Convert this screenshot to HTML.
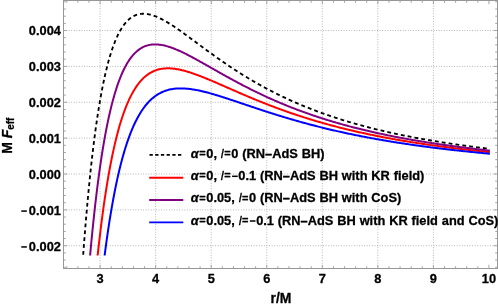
<!DOCTYPE html>
<html><head><meta charset="utf-8"><style>
html,body{margin:0;padding:0;background:#fff;}
body{width:498px;height:307px;overflow:hidden;position:relative;font-family:"Liberation Sans",sans-serif;}
svg{position:absolute;left:0;top:0;will-change:transform;}
text{font-family:"Liberation Sans",sans-serif;font-weight:bold;font-size:13px;fill:#000;stroke:#000;stroke-width:0.3px;stroke-linejoin:round;}
.i{font-style:italic;}
.d{fill:none;stroke:none;}
.l{font-style:italic;font-weight:normal;}
</style></head><body>
<svg width="498" height="307" viewBox="0 0 498 307">
<rect width="498" height="307" fill="#fff"/>
<defs><clipPath id="c"><rect x="63.50" y="0.50" width="434.00" height="255.00"/></clipPath></defs>
<g stroke="#b0b0b0" stroke-width="1" stroke-dasharray="0.9 1.67" fill="none"><line x1="100.10" y1="0.5" x2="100.10" y2="268.5"/><line x1="155.65" y1="0.5" x2="155.65" y2="268.5"/><line x1="211.20" y1="0.5" x2="211.20" y2="268.5"/><line x1="266.75" y1="0.5" x2="266.75" y2="268.5"/><line x1="322.30" y1="0.5" x2="322.30" y2="268.5"/><line x1="377.85" y1="0.5" x2="377.85" y2="268.5"/><line x1="433.40" y1="0.5" x2="433.40" y2="268.5"/><line x1="63.5" y1="245.73" x2="497.5" y2="245.73"/><line x1="63.5" y1="209.87" x2="497.5" y2="209.87"/><line x1="63.5" y1="174.00" x2="497.5" y2="174.00"/><line x1="63.5" y1="138.13" x2="497.5" y2="138.13"/><line x1="63.5" y1="102.27" x2="497.5" y2="102.27"/><line x1="63.5" y1="66.40" x2="497.5" y2="66.40"/><line x1="63.5" y1="30.53" x2="497.5" y2="30.53"/></g>
<g clip-path="url(#c)" fill="none" stroke-linejoin="round"><path d="M141.95,13.78 L143.11,13.73 L144.27,13.75 L145.43,13.81 L146.59,13.94 L147.75,14.11 L148.91,14.32 L150.07,14.58 L151.23,14.89 L152.39,15.23 L153.56,15.61 L154.72,16.02 L155.88,16.47 L157.04,16.95 L158.20,17.46 L159.36,17.99 L160.52,18.56 L161.68,19.14 L162.84,19.75 L164.00,20.38 L165.16,21.03 L166.32,21.70 L167.48,22.39 L168.64,23.09 L169.80,23.81 L170.96,24.55 L172.12,25.29 L173.28,26.05 L174.44,26.82 L175.61,27.60 L176.77,28.39 L177.93,29.19 L179.09,30.00 L180.25,30.82 L181.41,31.64 L182.57,32.47 L183.73,33.30 L184.89,34.14 L186.05,34.98 L187.21,35.83 L188.37,36.68 L189.53,37.53 L190.69,38.38 L191.85,39.24 L193.01,40.10 L194.17,40.96 L195.33,41.82 L196.50,42.68 L197.66,43.54 L198.82,44.40 L199.98,45.26 L201.14,46.12 L202.30,46.97 L203.46,47.83 L204.62,48.68 L205.78,49.54 L206.94,50.39 L208.10,51.24 L209.26,52.08 L210.42,52.92 L211.58,53.76 L212.74,54.60 L213.90,55.43 L215.06,56.26 L216.22,57.09 L217.38,57.91 L218.55,58.73 L219.71,59.55 L220.87,60.36 L222.03,61.17 L223.19,61.97 L224.35,62.77 L225.51,63.56 L226.67,64.35 L227.83,65.14 L228.99,65.92 L230.15,66.70 L231.31,67.47 L232.47,68.24 L233.63,69.00 L234.79,69.76 L235.95,70.51 L237.11,71.26 L238.27,72.00 L239.43,72.74 L240.60,73.47 L241.76,74.20 L242.92,74.92 L244.08,75.64 L245.24,76.35 L246.40,77.06 L247.56,77.77 L248.72,78.46 L249.88,79.16 L251.04,79.85 L252.20,80.53 L253.36,81.21 L254.52,81.88 L255.68,82.55 L256.84,83.21 L258.00,83.87 L259.16,84.52 L260.32,85.17 L261.49,85.81 L262.65,86.45 L263.81,87.08 L264.97,87.71 L266.13,88.34 L267.29,88.95 L268.45,89.57 L269.61,90.18 L270.77,90.78 L271.93,91.38 L273.09,91.97 L274.25,92.56 L275.41,93.15 L276.57,93.73 L277.73,94.31 L278.89,94.88 L280.05,95.44 L281.21,96.00 L282.37,96.56 L283.54,97.11 L284.70,97.66 L285.86,98.21 L287.02,98.75 L288.18,99.28 L289.34,99.81 L290.50,100.34 L291.66,100.86 L292.82,101.38 L293.98,101.89 L295.14,102.40 L296.30,102.90 L297.46,103.40 L298.62,103.90 L299.78,104.39 L300.94,104.88 L302.10,105.37 L303.26,105.85 L304.42,106.32 L305.59,106.80 L306.75,107.26 L307.91,107.73 L309.07,108.19 L310.23,108.65 L311.39,109.10 L312.55,109.55 L313.71,109.99 L314.87,110.44 L316.03,110.87 L317.19,111.31 L318.35,111.74 L319.51,112.17 L320.67,112.59 L321.83,113.01 L322.99,113.43 L324.15,113.84 L325.31,114.25 L326.48,114.66 L327.64,115.06 L328.80,115.46 L329.96,115.86 L331.12,116.25 L332.28,116.64 L333.44,117.03 L334.60,117.41 L335.76,117.79 L336.92,118.17 L338.08,118.54 L339.24,118.91 L340.40,119.28 L341.56,119.65 L342.72,120.01 L343.88,120.37 L345.04,120.72 L346.20,121.08 L347.36,121.43 L348.53,121.77 L349.69,122.12 L350.85,122.46 L352.01,122.80 L353.17,123.14 L354.33,123.47 L355.49,123.80 L356.65,124.13 L357.81,124.45 L358.97,124.77 L360.13,125.09 L361.29,125.41 L362.45,125.73 L363.61,126.04 L364.77,126.35 L365.93,126.66 L367.09,126.96 L368.25,127.26 L369.41,127.56 L370.58,127.86 L371.74,128.15 L372.90,128.45 L374.06,128.74 L375.22,129.03 L376.38,129.31 L377.54,129.59 L378.70,129.88 L379.86,130.15 L381.02,130.43 L382.18,130.70 L383.34,130.98 L384.50,131.25 L385.66,131.51 L386.82,131.78 L387.98,132.04 L389.14,132.31 L390.30,132.57 L391.47,132.82 L392.63,133.08 L393.79,133.33 L394.95,133.58 L396.11,133.83 L397.27,134.08 L398.43,134.33 L399.59,134.57 L400.75,134.81 L401.91,135.05 L403.07,135.29 L404.23,135.52 L405.39,135.76 L406.55,135.99 L407.71,136.22 L408.87,136.45 L410.03,136.68 L411.19,136.90 L412.35,137.13 L413.52,137.35 L414.68,137.57 L415.84,137.79 L417.00,138.00 L418.16,138.22 L419.32,138.43 L420.48,138.64 L421.64,138.85 L422.80,139.06 L423.96,139.27 L425.12,139.47 L426.28,139.68 L427.44,139.88 L428.60,140.08 L429.76,140.28 L430.92,140.48 L432.08,140.68 L433.24,140.87 L434.40,141.06 L435.57,141.26 L436.73,141.45 L437.89,141.63 L439.05,141.82 L440.21,142.01 L441.37,142.19 L442.53,142.38 L443.69,142.56 L444.85,142.74 L446.01,142.92 L447.17,143.10 L448.33,143.27 L449.49,143.45 L450.65,143.62 L451.81,143.80 L452.97,143.97 L454.13,144.14 L455.29,144.31 L456.46,144.48 L457.62,144.64 L458.78,144.81 L459.94,144.97 L461.10,145.13 L462.26,145.30 L463.42,145.46 L464.58,145.62 L465.74,145.77 L466.90,145.93 L468.06,146.09 L469.22,146.24 L470.38,146.40 L471.54,146.55 L472.70,146.70 L473.86,146.85 L475.02,147.00 L476.18,147.15 L477.34,147.30 L478.51,147.44 L479.67,147.59 L480.83,147.73 L481.99,147.88 L483.15,148.02 L484.31,148.16 L485.47,148.30 L486.63,148.44 L487.79,148.58 L488.95,148.71" stroke="#000" stroke-width="1.85" stroke-dasharray="3.86 3.07" stroke-dashoffset="1.93"/><path d="M141.95,13.78 L141.63,13.80 L141.32,13.83 L141.00,13.86 L140.68,13.89 L140.37,13.94 L140.05,13.98 L139.74,14.03 L139.42,14.09 L139.10,14.15 L138.79,14.22 L138.47,14.29 L138.15,14.37 L137.84,14.45 L137.52,14.54 L137.20,14.63 L136.89,14.73 L136.57,14.84 L136.26,14.95 L135.94,15.07 L135.62,15.19 L135.31,15.32 L134.99,15.45 L134.67,15.60 L134.36,15.74 L134.04,15.90 L133.72,16.06 L133.41,16.23 L133.09,16.40 L132.78,16.58 L132.46,16.77 L132.14,16.97 L131.83,17.17 L131.51,17.38 L131.19,17.60 L130.88,17.82 L130.56,18.05 L130.24,18.29 L129.93,18.54 L129.61,18.80 L129.29,19.06 L128.98,19.33 L128.66,19.61 L128.35,19.90 L128.03,20.20 L127.71,20.51 L127.40,20.82 L127.08,21.14 L126.76,21.48 L126.45,21.82 L126.13,22.17 L125.81,22.53 L125.50,22.90 L125.18,23.28 L124.87,23.67 L124.55,24.07 L124.23,24.47 L123.92,24.89 L123.60,25.32 L123.28,25.76 L122.97,26.21 L122.65,26.68 L122.33,27.15 L122.02,27.63 L121.70,28.13 L121.39,28.63 L121.07,29.15 L120.75,29.68 L120.44,30.22 L120.12,30.78 L119.80,31.34 L119.49,31.92 L119.17,32.51 L118.85,33.12 L118.54,33.74 L118.22,34.37 L117.91,35.01 L117.59,35.67 L117.27,36.34 L116.96,37.02 L116.64,37.72 L116.32,38.44 L116.01,39.16 L115.69,39.91 L115.37,40.66 L115.06,41.44 L114.74,42.23 L114.43,43.03 L114.11,43.85 L113.79,44.69 L113.48,45.54 L113.16,46.41 L112.84,47.29 L112.53,48.20 L112.21,49.12 L111.89,50.05 L111.58,51.01 L111.26,51.98 L110.95,52.97 L110.63,53.99 L110.31,55.01 L110.00,56.06 L109.68,57.13 L109.36,58.22 L109.05,59.32 L108.73,60.45 L108.41,61.60 L108.10,62.77 L107.78,63.96 L107.46,65.17 L107.15,66.40 L106.83,67.66 L106.52,68.93 L106.20,70.23 L105.88,71.55 L105.57,72.90 L105.25,74.27 L104.93,75.66 L104.62,77.08 L104.30,78.52 L103.98,79.99 L103.67,81.48 L103.35,83.00 L103.04,84.55 L102.72,86.12 L102.40,87.72 L102.09,89.34 L101.77,91.00 L101.45,92.68 L101.14,94.39 L100.82,96.13 L100.50,97.89 L100.19,99.69 L99.87,101.52 L99.56,103.38 L99.24,105.27 L98.92,107.19 L98.61,109.14 L98.29,111.13 L97.97,113.15 L97.66,115.20 L97.34,117.29 L97.02,119.41 L96.71,121.56 L96.39,123.75 L96.08,125.98 L95.76,128.24 L95.44,130.55 L95.13,132.88 L94.81,135.26 L94.49,137.67 L94.18,140.13 L93.86,142.62 L93.54,145.16 L93.23,147.73 L92.91,150.35 L92.60,153.01 L92.28,155.71 L91.96,158.46 L91.65,161.25 L91.33,164.08 L91.01,166.96 L90.70,169.89 L90.38,172.86 L90.06,175.88 L89.75,178.95 L89.43,182.07 L89.12,185.24 L88.80,188.46 L88.48,191.73 L88.17,195.05 L87.85,198.42 L87.53,201.85 L87.22,205.33 L86.90,208.87 L86.58,212.47 L86.27,216.12 L85.95,219.83 L85.63,223.59 L85.32,227.42 L85.00,231.31 L84.69,235.26 L84.37,239.27 L84.05,243.34 L83.74,247.48 L83.42,251.69 L83.10,255.96 L82.79,260.29 L82.47,264.70 L82.15,269.17 L81.84,273.72 L81.52,278.34 L81.21,283.03 L80.89,287.79 L80.57,292.63 L80.26,297.54 L79.94,302.54 L79.62,307.61 L79.31,312.76 L78.99,317.99" stroke="#000" stroke-width="1.85" stroke-dasharray="3.84 3.055" stroke-dashoffset="1.92"/><path d="M94.30,288.74 L95.35,277.75 L96.40,267.25 L97.44,257.23 L98.49,247.66 L99.54,238.53 L100.58,229.81 L101.63,221.49 L102.67,213.54 L103.72,205.96 L104.77,198.72 L105.81,191.81 L106.86,185.22 L107.91,178.93 L108.95,172.93 L110.00,167.21 L111.05,161.75 L112.09,156.55 L113.14,151.59 L114.19,146.86 L115.23,142.35 L116.28,138.05 L117.33,133.96 L118.37,130.06 L119.42,126.35 L120.47,122.82 L121.51,119.46 L122.56,116.26 L123.61,113.23 L124.65,110.34 L125.70,107.59 L126.75,104.99 L127.79,102.52 L128.84,100.17 L129.88,97.95 L130.93,95.84 L131.98,93.84 L133.02,91.95 L134.07,90.17 L135.12,88.48 L136.16,86.89 L137.21,85.39 L138.26,83.97 L139.30,82.64 L140.35,81.39 L141.40,80.21 L142.44,79.11 L143.49,78.08 L144.54,77.11 L145.58,76.21 L146.63,75.37 L147.68,74.59 L148.72,73.87 L149.77,73.20 L150.82,72.59 L151.86,72.02 L152.91,71.51 L153.96,71.04 L155.00,70.61 L156.05,70.23 L157.09,69.88 L158.14,69.58 L159.19,69.31 L160.23,69.08 L161.28,68.88 L162.33,68.72 L163.37,68.58 L164.42,68.48 L165.47,68.41 L166.51,68.36 L167.56,68.34 L168.61,68.34 L169.65,68.37 L170.70,68.42 L171.75,68.50 L172.79,68.59 L173.84,68.70 L174.89,68.84 L175.93,68.99 L176.98,69.16 L178.03,69.35 L179.07,69.55 L180.12,69.77 L181.17,70.00 L182.21,70.25 L183.26,70.51 L184.30,70.78 L185.35,71.06 L186.40,71.36 L187.44,71.67 L188.49,71.98 L189.54,72.31 L190.58,72.64 L191.63,72.99 L192.68,73.34 L193.72,73.70 L194.77,74.07 L195.82,74.45 L196.86,74.83 L197.91,75.22 L198.96,75.61 L200.00,76.01 L201.05,76.42 L202.10,76.83 L203.14,77.25 L204.19,77.66 L205.24,78.09 L206.28,78.52 L207.33,78.95 L208.38,79.38 L209.42,79.82 L210.47,80.26 L211.51,80.70 L212.56,81.15 L213.61,81.59 L214.65,82.04 L215.70,82.49 L216.75,82.95 L217.79,83.40 L218.84,83.86 L219.89,84.31 L220.93,84.77 L221.98,85.23 L223.03,85.68 L224.07,86.14 L225.12,86.60 L226.17,87.06 L227.21,87.52 L228.26,87.98 L229.31,88.44 L230.35,88.90 L231.40,89.36 L232.45,89.82 L233.49,90.28 L234.54,90.73 L235.59,91.19 L236.63,91.65 L237.68,92.10 L238.72,92.55 L239.77,93.01 L240.82,93.46 L241.86,93.91 L242.91,94.36 L243.96,94.81 L245.00,95.25 L246.05,95.70 L247.10,96.14 L248.14,96.59 L249.19,97.03 L250.24,97.47 L251.28,97.90 L252.33,98.34 L253.38,98.78 L254.42,99.21 L255.47,99.64 L256.52,100.07 L257.56,100.50 L258.61,100.92 L259.66,101.34 L260.70,101.77 L261.75,102.19 L262.80,102.60 L263.84,103.02 L264.89,103.43 L265.93,103.84 L266.98,104.25 L268.03,104.66 L269.07,105.07 L270.12,105.47 L271.17,105.87 L272.21,106.27 L273.26,106.67 L274.31,107.06 L275.35,107.46 L276.40,107.85 L277.45,108.24 L278.49,108.62 L279.54,109.01 L280.59,109.39 L281.63,109.77 L282.68,110.15 L283.73,110.52 L284.77,110.90 L285.82,111.27 L286.87,111.64 L287.91,112.00 L288.96,112.37 L290.01,112.73 L291.05,113.09 L292.10,113.45 L293.14,113.80 L294.19,114.16 L295.24,114.51 L296.28,114.86 L297.33,115.21 L298.38,115.55 L299.42,115.90 L300.47,116.24 L301.52,116.57 L302.56,116.91 L303.61,117.25 L304.66,117.58 L305.70,117.91 L306.75,118.24 L307.80,118.56 L308.84,118.89 L309.89,119.21 L310.94,119.53 L311.98,119.85 L313.03,120.16 L314.08,120.48 L315.12,120.79 L316.17,121.10 L317.22,121.40 L318.26,121.71 L319.31,122.01 L320.35,122.32 L321.40,122.62 L322.45,122.91 L323.49,123.21 L324.54,123.50 L325.59,123.79 L326.63,124.08 L327.68,124.37 L328.73,124.66 L329.77,124.94 L330.82,125.22 L331.87,125.50 L332.91,125.78 L333.96,126.06 L335.01,126.33 L336.05,126.61 L337.10,126.88 L338.15,127.15 L339.19,127.42 L340.24,127.68 L341.29,127.95 L342.33,128.21 L343.38,128.47 L344.43,128.73 L345.47,128.98 L346.52,129.24 L347.56,129.49 L348.61,129.74 L349.66,129.99 L350.70,130.24 L351.75,130.49 L352.80,130.73 L353.84,130.98 L354.89,131.22 L355.94,131.46 L356.98,131.70 L358.03,131.94 L359.08,132.17 L360.12,132.40 L361.17,132.64 L362.22,132.87 L363.26,133.10 L364.31,133.32 L365.36,133.55 L366.40,133.77 L367.45,134.00 L368.50,134.22 L369.54,134.44 L370.59,134.66 L371.64,134.87 L372.68,135.09 L373.73,135.30 L374.77,135.52 L375.82,135.73 L376.87,135.94 L377.91,136.15 L378.96,136.35 L380.01,136.56 L381.05,136.76 L382.10,136.97 L383.15,137.17 L384.19,137.37 L385.24,137.57 L386.29,137.76 L387.33,137.96 L388.38,138.15 L389.43,138.35 L390.47,138.54 L391.52,138.73 L392.57,138.92 L393.61,139.11 L394.66,139.30 L395.71,139.48 L396.75,139.67 L397.80,139.85 L398.85,140.03 L399.89,140.21 L400.94,140.39 L401.99,140.57 L403.03,140.75 L404.08,140.93 L405.12,141.10 L406.17,141.28 L407.22,141.45 L408.26,141.62 L409.31,141.79 L410.36,141.96 L411.40,142.13 L412.45,142.30 L413.50,142.46 L414.54,142.63 L415.59,142.79 L416.64,142.95 L417.68,143.12 L418.73,143.28 L419.78,143.44 L420.82,143.59 L421.87,143.75 L422.92,143.91 L423.96,144.06 L425.01,144.22 L426.06,144.37 L427.10,144.52 L428.15,144.68 L429.20,144.83 L430.24,144.98 L431.29,145.12 L432.33,145.27 L433.38,145.42 L434.43,145.56 L435.47,145.71 L436.52,145.85 L437.57,146.00 L438.61,146.14 L439.66,146.28 L440.71,146.42 L441.75,146.56 L442.80,146.70 L443.85,146.83 L444.89,146.97 L445.94,147.11 L446.99,147.24 L448.03,147.38 L449.08,147.51 L450.13,147.64 L451.17,147.77 L452.22,147.90 L453.27,148.03 L454.31,148.16 L455.36,148.29 L456.41,148.42 L457.45,148.54 L458.50,148.67 L459.54,148.80 L460.59,148.92 L461.64,149.04 L462.68,149.17 L463.73,149.29 L464.78,149.41 L465.82,149.53 L466.87,149.65 L467.92,149.77 L468.96,149.89 L470.01,150.00 L471.06,150.12 L472.10,150.24 L473.15,150.35 L474.20,150.47 L475.24,150.58 L476.29,150.69 L477.34,150.80 L478.38,150.92 L479.43,151.03 L480.48,151.14 L481.52,151.25 L482.57,151.36 L483.62,151.46 L484.66,151.57 L485.71,151.68 L486.75,151.78 L487.80,151.89 L488.85,152.00 L489.89,152.10" stroke="#ff0000" stroke-width="2"/><path d="M86.98,292.97 L88.02,279.80 L89.07,267.27 L90.12,255.33 L91.16,243.96 L92.21,233.14 L93.26,222.83 L94.30,213.02 L95.35,203.68 L96.40,194.78 L97.44,186.32 L98.49,178.27 L99.54,170.60 L100.58,163.31 L101.63,156.37 L102.67,149.78 L103.72,143.51 L104.77,137.54 L105.81,131.88 L106.86,126.49 L107.91,121.38 L108.95,116.52 L110.00,111.91 L111.05,107.53 L112.09,103.38 L113.14,99.45 L114.19,95.72 L115.23,92.18 L116.28,88.84 L117.33,85.67 L118.37,82.68 L119.42,79.84 L120.47,77.17 L121.51,74.65 L122.56,72.27 L123.61,70.02 L124.65,67.91 L125.70,65.93 L126.75,64.06 L127.79,62.31 L128.84,60.67 L129.88,59.13 L130.93,57.70 L131.98,56.36 L133.02,55.11 L134.07,53.95 L135.12,52.88 L136.16,51.89 L137.21,50.97 L138.26,50.12 L139.30,49.35 L140.35,48.65 L141.40,48.00 L142.44,47.43 L143.49,46.90 L144.54,46.44 L145.58,46.03 L146.63,45.67 L147.68,45.36 L148.72,45.10 L149.77,44.88 L150.82,44.71 L151.86,44.57 L152.91,44.48 L153.96,44.42 L155.00,44.40 L156.05,44.41 L157.09,44.46 L158.14,44.53 L159.19,44.64 L160.23,44.77 L161.28,44.93 L162.33,45.12 L163.37,45.33 L164.42,45.56 L165.47,45.82 L166.51,46.10 L167.56,46.39 L168.61,46.71 L169.65,47.05 L170.70,47.40 L171.75,47.77 L172.79,48.15 L173.84,48.55 L174.89,48.96 L175.93,49.39 L176.98,49.82 L178.03,50.27 L179.07,50.74 L180.12,51.21 L181.17,51.69 L182.21,52.18 L183.26,52.68 L184.30,53.19 L185.35,53.70 L186.40,54.23 L187.44,54.76 L188.49,55.30 L189.54,55.84 L190.58,56.39 L191.63,56.94 L192.68,57.50 L193.72,58.06 L194.77,58.63 L195.82,59.20 L196.86,59.77 L197.91,60.35 L198.96,60.93 L200.00,61.51 L201.05,62.09 L202.10,62.68 L203.14,63.27 L204.19,63.86 L205.24,64.45 L206.28,65.04 L207.33,65.64 L208.38,66.23 L209.42,66.82 L210.47,67.42 L211.51,68.01 L212.56,68.61 L213.61,69.20 L214.65,69.80 L215.70,70.39 L216.75,70.98 L217.79,71.57 L218.84,72.17 L219.89,72.76 L220.93,73.34 L221.98,73.93 L223.03,74.52 L224.07,75.10 L225.12,75.69 L226.17,76.27 L227.21,76.85 L228.26,77.43 L229.31,78.00 L230.35,78.58 L231.40,79.15 L232.45,79.72 L233.49,80.29 L234.54,80.85 L235.59,81.42 L236.63,81.98 L237.68,82.54 L238.72,83.09 L239.77,83.65 L240.82,84.20 L241.86,84.75 L242.91,85.29 L243.96,85.84 L245.00,86.38 L246.05,86.91 L247.10,87.45 L248.14,87.98 L249.19,88.51 L250.24,89.04 L251.28,89.56 L252.33,90.08 L253.38,90.60 L254.42,91.12 L255.47,91.63 L256.52,92.14 L257.56,92.65 L258.61,93.15 L259.66,93.65 L260.70,94.15 L261.75,94.65 L262.80,95.14 L263.84,95.63 L264.89,96.11 L265.93,96.60 L266.98,97.08 L268.03,97.55 L269.07,98.03 L270.12,98.50 L271.17,98.97 L272.21,99.43 L273.26,99.90 L274.31,100.36 L275.35,100.81 L276.40,101.27 L277.45,101.72 L278.49,102.16 L279.54,102.61 L280.59,103.05 L281.63,103.49 L282.68,103.92 L283.73,104.36 L284.77,104.79 L285.82,105.22 L286.87,105.64 L287.91,106.06 L288.96,106.48 L290.01,106.90 L291.05,107.31 L292.10,107.72 L293.14,108.13 L294.19,108.53 L295.24,108.93 L296.28,109.33 L297.33,109.73 L298.38,110.12 L299.42,110.51 L300.47,110.90 L301.52,111.29 L302.56,111.67 L303.61,112.05 L304.66,112.43 L305.70,112.80 L306.75,113.17 L307.80,113.54 L308.84,113.91 L309.89,114.28 L310.94,114.64 L311.98,115.00 L313.03,115.35 L314.08,115.71 L315.12,116.06 L316.17,116.41 L317.22,116.76 L318.26,117.10 L319.31,117.44 L320.35,117.78 L321.40,118.12 L322.45,118.46 L323.49,118.79 L324.54,119.12 L325.59,119.45 L326.63,119.77 L327.68,120.09 L328.73,120.41 L329.77,120.73 L330.82,121.05 L331.87,121.36 L332.91,121.68 L333.96,121.99 L335.01,122.29 L336.05,122.60 L337.10,122.90 L338.15,123.20 L339.19,123.50 L340.24,123.80 L341.29,124.09 L342.33,124.38 L343.38,124.67 L344.43,124.96 L345.47,125.25 L346.52,125.53 L347.56,125.82 L348.61,126.10 L349.66,126.37 L350.70,126.65 L351.75,126.92 L352.80,127.20 L353.84,127.47 L354.89,127.74 L355.94,128.00 L356.98,128.27 L358.03,128.53 L359.08,128.79 L360.12,129.05 L361.17,129.31 L362.22,129.56 L363.26,129.82 L364.31,130.07 L365.36,130.32 L366.40,130.57 L367.45,130.81 L368.50,131.06 L369.54,131.30 L370.59,131.54 L371.64,131.78 L372.68,132.02 L373.73,132.26 L374.77,132.49 L375.82,132.73 L376.87,132.96 L377.91,133.19 L378.96,133.41 L380.01,133.64 L381.05,133.87 L382.10,134.09 L383.15,134.31 L384.19,134.53 L385.24,134.75 L386.29,134.97 L387.33,135.18 L388.38,135.40 L389.43,135.61 L390.47,135.82 L391.52,136.03 L392.57,136.24 L393.61,136.45 L394.66,136.65 L395.71,136.86 L396.75,137.06 L397.80,137.26 L398.85,137.46 L399.89,137.66 L400.94,137.86 L401.99,138.05 L403.03,138.25 L404.08,138.44 L405.12,138.63 L406.17,138.82 L407.22,139.01 L408.26,139.20 L409.31,139.39 L410.36,139.57 L411.40,139.76 L412.45,139.94 L413.50,140.12 L414.54,140.30 L415.59,140.48 L416.64,140.66 L417.68,140.84 L418.73,141.01 L419.78,141.19 L420.82,141.36 L421.87,141.53 L422.92,141.70 L423.96,141.87 L425.01,142.04 L426.06,142.21 L427.10,142.38 L428.15,142.54 L429.20,142.71 L430.24,142.87 L431.29,143.03 L432.33,143.19 L433.38,143.35 L434.43,143.51 L435.47,143.67 L436.52,143.83 L437.57,143.98 L438.61,144.14 L439.66,144.29 L440.71,144.44 L441.75,144.60 L442.80,144.75 L443.85,144.90 L444.89,145.04 L445.94,145.19 L446.99,145.34 L448.03,145.48 L449.08,145.63 L450.13,145.77 L451.17,145.92 L452.22,146.06 L453.27,146.20 L454.31,146.34 L455.36,146.48 L456.41,146.62 L457.45,146.75 L458.50,146.89 L459.54,147.03 L460.59,147.16 L461.64,147.30 L462.68,147.43 L463.73,147.56 L464.78,147.69 L465.82,147.82 L466.87,147.95 L467.92,148.08 L468.96,148.21 L470.01,148.34 L471.06,148.46 L472.10,148.59 L473.15,148.71 L474.20,148.84 L475.24,148.96 L476.29,149.08 L477.34,149.21 L478.38,149.33 L479.43,149.45 L480.48,149.57 L481.52,149.69 L482.57,149.80 L483.62,149.92 L484.66,150.04 L485.71,150.15 L486.75,150.27 L487.80,150.38 L488.85,150.50 L489.89,150.61" stroke="#800080" stroke-width="2"/><path d="M99.54,299.53 L100.58,289.67 L101.63,280.24 L102.67,271.21 L103.72,262.57 L104.77,254.30 L105.81,246.39 L106.86,238.81 L107.91,231.57 L108.95,224.63 L110.00,217.99 L111.05,211.64 L112.09,205.57 L113.14,199.75 L114.19,194.19 L115.23,188.87 L116.28,183.78 L117.33,178.91 L118.37,174.26 L119.42,169.80 L120.47,165.55 L121.51,161.48 L122.56,157.59 L123.61,153.87 L124.65,150.32 L125.70,146.93 L126.75,143.68 L127.79,140.59 L128.84,137.64 L129.88,134.82 L130.93,132.12 L131.98,129.56 L133.02,127.11 L134.07,124.78 L135.12,122.55 L136.16,120.44 L137.21,118.42 L138.26,116.50 L139.30,114.68 L140.35,112.94 L141.40,111.29 L142.44,109.72 L143.49,108.23 L144.54,106.82 L145.58,105.49 L146.63,104.22 L147.68,103.02 L148.72,101.88 L149.77,100.81 L150.82,99.80 L151.86,98.85 L152.91,97.95 L153.96,97.10 L155.00,96.31 L156.05,95.56 L157.09,94.87 L158.14,94.21 L159.19,93.61 L160.23,93.04 L161.28,92.51 L162.33,92.03 L163.37,91.58 L164.42,91.16 L165.47,90.78 L166.51,90.43 L167.56,90.12 L168.61,89.83 L169.65,89.58 L170.70,89.35 L171.75,89.15 L172.79,88.97 L173.84,88.82 L174.89,88.70 L175.93,88.59 L176.98,88.51 L178.03,88.45 L179.07,88.41 L180.12,88.39 L181.17,88.39 L182.21,88.40 L183.26,88.43 L184.30,88.48 L185.35,88.55 L186.40,88.63 L187.44,88.72 L188.49,88.83 L189.54,88.95 L190.58,89.08 L191.63,89.23 L192.68,89.39 L193.72,89.55 L194.77,89.73 L195.82,89.92 L196.86,90.12 L197.91,90.33 L198.96,90.54 L200.00,90.77 L201.05,91.00 L202.10,91.24 L203.14,91.49 L204.19,91.75 L205.24,92.01 L206.28,92.28 L207.33,92.55 L208.38,92.83 L209.42,93.11 L210.47,93.40 L211.51,93.70 L212.56,94.00 L213.61,94.30 L214.65,94.61 L215.70,94.92 L216.75,95.24 L217.79,95.56 L218.84,95.88 L219.89,96.20 L220.93,96.53 L221.98,96.86 L223.03,97.19 L224.07,97.53 L225.12,97.87 L226.17,98.21 L227.21,98.55 L228.26,98.89 L229.31,99.23 L230.35,99.58 L231.40,99.93 L232.45,100.27 L233.49,100.62 L234.54,100.97 L235.59,101.32 L236.63,101.67 L237.68,102.03 L238.72,102.38 L239.77,102.73 L240.82,103.08 L241.86,103.44 L242.91,103.79 L243.96,104.14 L245.00,104.50 L246.05,104.85 L247.10,105.20 L248.14,105.55 L249.19,105.91 L250.24,106.26 L251.28,106.61 L252.33,106.96 L253.38,107.31 L254.42,107.66 L255.47,108.01 L256.52,108.36 L257.56,108.70 L258.61,109.05 L259.66,109.40 L260.70,109.74 L261.75,110.08 L262.80,110.43 L263.84,110.77 L264.89,111.11 L265.93,111.45 L266.98,111.79 L268.03,112.12 L269.07,112.46 L270.12,112.79 L271.17,113.13 L272.21,113.46 L273.26,113.79 L274.31,114.12 L275.35,114.45 L276.40,114.78 L277.45,115.10 L278.49,115.43 L279.54,115.75 L280.59,116.07 L281.63,116.39 L282.68,116.71 L283.73,117.03 L284.77,117.34 L285.82,117.65 L286.87,117.97 L287.91,118.28 L288.96,118.59 L290.01,118.90 L291.05,119.20 L292.10,119.51 L293.14,119.81 L294.19,120.11 L295.24,120.41 L296.28,120.71 L297.33,121.01 L298.38,121.30 L299.42,121.60 L300.47,121.89 L301.52,122.18 L302.56,122.47 L303.61,122.76 L304.66,123.04 L305.70,123.33 L306.75,123.61 L307.80,123.89 L308.84,124.17 L309.89,124.45 L310.94,124.72 L311.98,125.00 L313.03,125.27 L314.08,125.54 L315.12,125.81 L316.17,126.08 L317.22,126.35 L318.26,126.61 L319.31,126.88 L320.35,127.14 L321.40,127.40 L322.45,127.66 L323.49,127.92 L324.54,128.17 L325.59,128.43 L326.63,128.68 L327.68,128.93 L328.73,129.18 L329.77,129.43 L330.82,129.68 L331.87,129.92 L332.91,130.17 L333.96,130.41 L335.01,130.65 L336.05,130.89 L337.10,131.13 L338.15,131.36 L339.19,131.60 L340.24,131.83 L341.29,132.07 L342.33,132.30 L343.38,132.53 L344.43,132.75 L345.47,132.98 L346.52,133.20 L347.56,133.43 L348.61,133.65 L349.66,133.87 L350.70,134.09 L351.75,134.31 L352.80,134.52 L353.84,134.74 L354.89,134.95 L355.94,135.17 L356.98,135.38 L358.03,135.59 L359.08,135.80 L360.12,136.00 L361.17,136.21 L362.22,136.41 L363.26,136.62 L364.31,136.82 L365.36,137.02 L366.40,137.22 L367.45,137.42 L368.50,137.61 L369.54,137.81 L370.59,138.00 L371.64,138.20 L372.68,138.39 L373.73,138.58 L374.77,138.77 L375.82,138.96 L376.87,139.14 L377.91,139.33 L378.96,139.51 L380.01,139.70 L381.05,139.88 L382.10,140.06 L383.15,140.24 L384.19,140.42 L385.24,140.60 L386.29,140.77 L387.33,140.95 L388.38,141.12 L389.43,141.30 L390.47,141.47 L391.52,141.64 L392.57,141.81 L393.61,141.98 L394.66,142.15 L395.71,142.31 L396.75,142.48 L397.80,142.64 L398.85,142.81 L399.89,142.97 L400.94,143.13 L401.99,143.29 L403.03,143.45 L404.08,143.61 L405.12,143.76 L406.17,143.92 L407.22,144.08 L408.26,144.23 L409.31,144.38 L410.36,144.54 L411.40,144.69 L412.45,144.84 L413.50,144.99 L414.54,145.14 L415.59,145.28 L416.64,145.43 L417.68,145.58 L418.73,145.72 L419.78,145.87 L420.82,146.01 L421.87,146.15 L422.92,146.29 L423.96,146.43 L425.01,146.57 L426.06,146.71 L427.10,146.85 L428.15,146.98 L429.20,147.12 L430.24,147.26 L431.29,147.39 L432.33,147.52 L433.38,147.66 L434.43,147.79 L435.47,147.92 L436.52,148.05 L437.57,148.18 L438.61,148.31 L439.66,148.43 L440.71,148.56 L441.75,148.69 L442.80,148.81 L443.85,148.94 L444.89,149.06 L445.94,149.18 L446.99,149.31 L448.03,149.43 L449.08,149.55 L450.13,149.67 L451.17,149.79 L452.22,149.91 L453.27,150.02 L454.31,150.14 L455.36,150.26 L456.41,150.37 L457.45,150.49 L458.50,150.60 L459.54,150.71 L460.59,150.83 L461.64,150.94 L462.68,151.05 L463.73,151.16 L464.78,151.27 L465.82,151.38 L466.87,151.49 L467.92,151.60 L468.96,151.71 L470.01,151.81 L471.06,151.92 L472.10,152.02 L473.15,152.13 L474.20,152.23 L475.24,152.34 L476.29,152.44 L477.34,152.54 L478.38,152.64 L479.43,152.74 L480.48,152.84 L481.52,152.94 L482.57,153.04 L483.62,153.14 L484.66,153.24 L485.71,153.34 L486.75,153.43 L487.80,153.53 L488.85,153.63 L489.89,153.72" stroke="#0000ff" stroke-width="2"/></g>
<g stroke="#a4a4a4" stroke-width="1" fill="none"><line x1="66.77" y1="268.5" x2="66.77" y2="266.2"/><line x1="66.77" y1="0.5" x2="66.77" y2="2.8"/><line x1="77.88" y1="268.5" x2="77.88" y2="266.2"/><line x1="77.88" y1="0.5" x2="77.88" y2="2.8"/><line x1="88.99" y1="268.5" x2="88.99" y2="266.2"/><line x1="88.99" y1="0.5" x2="88.99" y2="2.8"/><line x1="100.10" y1="268.5" x2="100.10" y2="264.8"/><line x1="100.10" y1="0.5" x2="100.10" y2="4.2"/><line x1="111.21" y1="268.5" x2="111.21" y2="266.2"/><line x1="111.21" y1="0.5" x2="111.21" y2="2.8"/><line x1="122.32" y1="268.5" x2="122.32" y2="266.2"/><line x1="122.32" y1="0.5" x2="122.32" y2="2.8"/><line x1="133.43" y1="268.5" x2="133.43" y2="266.2"/><line x1="133.43" y1="0.5" x2="133.43" y2="2.8"/><line x1="144.54" y1="268.5" x2="144.54" y2="266.2"/><line x1="144.54" y1="0.5" x2="144.54" y2="2.8"/><line x1="155.65" y1="268.5" x2="155.65" y2="264.8"/><line x1="155.65" y1="0.5" x2="155.65" y2="4.2"/><line x1="166.76" y1="268.5" x2="166.76" y2="266.2"/><line x1="166.76" y1="0.5" x2="166.76" y2="2.8"/><line x1="177.87" y1="268.5" x2="177.87" y2="266.2"/><line x1="177.87" y1="0.5" x2="177.87" y2="2.8"/><line x1="188.98" y1="268.5" x2="188.98" y2="266.2"/><line x1="188.98" y1="0.5" x2="188.98" y2="2.8"/><line x1="200.09" y1="268.5" x2="200.09" y2="266.2"/><line x1="200.09" y1="0.5" x2="200.09" y2="2.8"/><line x1="211.20" y1="268.5" x2="211.20" y2="264.8"/><line x1="211.20" y1="0.5" x2="211.20" y2="4.2"/><line x1="222.31" y1="268.5" x2="222.31" y2="266.2"/><line x1="222.31" y1="0.5" x2="222.31" y2="2.8"/><line x1="233.42" y1="268.5" x2="233.42" y2="266.2"/><line x1="233.42" y1="0.5" x2="233.42" y2="2.8"/><line x1="244.53" y1="268.5" x2="244.53" y2="266.2"/><line x1="244.53" y1="0.5" x2="244.53" y2="2.8"/><line x1="255.64" y1="268.5" x2="255.64" y2="266.2"/><line x1="255.64" y1="0.5" x2="255.64" y2="2.8"/><line x1="266.75" y1="268.5" x2="266.75" y2="264.8"/><line x1="266.75" y1="0.5" x2="266.75" y2="4.2"/><line x1="277.86" y1="268.5" x2="277.86" y2="266.2"/><line x1="277.86" y1="0.5" x2="277.86" y2="2.8"/><line x1="288.97" y1="268.5" x2="288.97" y2="266.2"/><line x1="288.97" y1="0.5" x2="288.97" y2="2.8"/><line x1="300.08" y1="268.5" x2="300.08" y2="266.2"/><line x1="300.08" y1="0.5" x2="300.08" y2="2.8"/><line x1="311.19" y1="268.5" x2="311.19" y2="266.2"/><line x1="311.19" y1="0.5" x2="311.19" y2="2.8"/><line x1="322.30" y1="268.5" x2="322.30" y2="264.8"/><line x1="322.30" y1="0.5" x2="322.30" y2="4.2"/><line x1="333.41" y1="268.5" x2="333.41" y2="266.2"/><line x1="333.41" y1="0.5" x2="333.41" y2="2.8"/><line x1="344.52" y1="268.5" x2="344.52" y2="266.2"/><line x1="344.52" y1="0.5" x2="344.52" y2="2.8"/><line x1="355.63" y1="268.5" x2="355.63" y2="266.2"/><line x1="355.63" y1="0.5" x2="355.63" y2="2.8"/><line x1="366.74" y1="268.5" x2="366.74" y2="266.2"/><line x1="366.74" y1="0.5" x2="366.74" y2="2.8"/><line x1="377.85" y1="268.5" x2="377.85" y2="264.8"/><line x1="377.85" y1="0.5" x2="377.85" y2="4.2"/><line x1="388.96" y1="268.5" x2="388.96" y2="266.2"/><line x1="388.96" y1="0.5" x2="388.96" y2="2.8"/><line x1="400.07" y1="268.5" x2="400.07" y2="266.2"/><line x1="400.07" y1="0.5" x2="400.07" y2="2.8"/><line x1="411.18" y1="268.5" x2="411.18" y2="266.2"/><line x1="411.18" y1="0.5" x2="411.18" y2="2.8"/><line x1="422.29" y1="268.5" x2="422.29" y2="266.2"/><line x1="422.29" y1="0.5" x2="422.29" y2="2.8"/><line x1="433.40" y1="268.5" x2="433.40" y2="264.8"/><line x1="433.40" y1="0.5" x2="433.40" y2="4.2"/><line x1="444.51" y1="268.5" x2="444.51" y2="266.2"/><line x1="444.51" y1="0.5" x2="444.51" y2="2.8"/><line x1="455.62" y1="268.5" x2="455.62" y2="266.2"/><line x1="455.62" y1="0.5" x2="455.62" y2="2.8"/><line x1="466.73" y1="268.5" x2="466.73" y2="266.2"/><line x1="466.73" y1="0.5" x2="466.73" y2="2.8"/><line x1="477.84" y1="268.5" x2="477.84" y2="266.2"/><line x1="477.84" y1="0.5" x2="477.84" y2="2.8"/><line x1="488.95" y1="268.5" x2="488.95" y2="264.8"/><line x1="488.95" y1="0.5" x2="488.95" y2="4.2"/><line x1="63.5" y1="267.25" x2="65.8" y2="267.25"/><line x1="497.5" y1="267.25" x2="495.2" y2="267.25"/><line x1="63.5" y1="260.08" x2="65.8" y2="260.08"/><line x1="497.5" y1="260.08" x2="495.2" y2="260.08"/><line x1="63.5" y1="252.91" x2="65.8" y2="252.91"/><line x1="497.5" y1="252.91" x2="495.2" y2="252.91"/><line x1="63.5" y1="245.73" x2="67.2" y2="245.73"/><line x1="497.5" y1="245.73" x2="493.8" y2="245.73"/><line x1="63.5" y1="238.56" x2="65.8" y2="238.56"/><line x1="497.5" y1="238.56" x2="495.2" y2="238.56"/><line x1="63.5" y1="231.39" x2="65.8" y2="231.39"/><line x1="497.5" y1="231.39" x2="495.2" y2="231.39"/><line x1="63.5" y1="224.21" x2="65.8" y2="224.21"/><line x1="497.5" y1="224.21" x2="495.2" y2="224.21"/><line x1="63.5" y1="217.04" x2="65.8" y2="217.04"/><line x1="497.5" y1="217.04" x2="495.2" y2="217.04"/><line x1="63.5" y1="209.87" x2="67.2" y2="209.87"/><line x1="497.5" y1="209.87" x2="493.8" y2="209.87"/><line x1="63.5" y1="202.69" x2="65.8" y2="202.69"/><line x1="497.5" y1="202.69" x2="495.2" y2="202.69"/><line x1="63.5" y1="195.52" x2="65.8" y2="195.52"/><line x1="497.5" y1="195.52" x2="495.2" y2="195.52"/><line x1="63.5" y1="188.35" x2="65.8" y2="188.35"/><line x1="497.5" y1="188.35" x2="495.2" y2="188.35"/><line x1="63.5" y1="181.17" x2="65.8" y2="181.17"/><line x1="497.5" y1="181.17" x2="495.2" y2="181.17"/><line x1="63.5" y1="174.00" x2="67.2" y2="174.00"/><line x1="497.5" y1="174.00" x2="493.8" y2="174.00"/><line x1="63.5" y1="166.83" x2="65.8" y2="166.83"/><line x1="497.5" y1="166.83" x2="495.2" y2="166.83"/><line x1="63.5" y1="159.65" x2="65.8" y2="159.65"/><line x1="497.5" y1="159.65" x2="495.2" y2="159.65"/><line x1="63.5" y1="152.48" x2="65.8" y2="152.48"/><line x1="497.5" y1="152.48" x2="495.2" y2="152.48"/><line x1="63.5" y1="145.31" x2="65.8" y2="145.31"/><line x1="497.5" y1="145.31" x2="495.2" y2="145.31"/><line x1="63.5" y1="138.13" x2="67.2" y2="138.13"/><line x1="497.5" y1="138.13" x2="493.8" y2="138.13"/><line x1="63.5" y1="130.96" x2="65.8" y2="130.96"/><line x1="497.5" y1="130.96" x2="495.2" y2="130.96"/><line x1="63.5" y1="123.79" x2="65.8" y2="123.79"/><line x1="497.5" y1="123.79" x2="495.2" y2="123.79"/><line x1="63.5" y1="116.61" x2="65.8" y2="116.61"/><line x1="497.5" y1="116.61" x2="495.2" y2="116.61"/><line x1="63.5" y1="109.44" x2="65.8" y2="109.44"/><line x1="497.5" y1="109.44" x2="495.2" y2="109.44"/><line x1="63.5" y1="102.27" x2="67.2" y2="102.27"/><line x1="497.5" y1="102.27" x2="493.8" y2="102.27"/><line x1="63.5" y1="95.09" x2="65.8" y2="95.09"/><line x1="497.5" y1="95.09" x2="495.2" y2="95.09"/><line x1="63.5" y1="87.92" x2="65.8" y2="87.92"/><line x1="497.5" y1="87.92" x2="495.2" y2="87.92"/><line x1="63.5" y1="80.75" x2="65.8" y2="80.75"/><line x1="497.5" y1="80.75" x2="495.2" y2="80.75"/><line x1="63.5" y1="73.57" x2="65.8" y2="73.57"/><line x1="497.5" y1="73.57" x2="495.2" y2="73.57"/><line x1="63.5" y1="66.40" x2="67.2" y2="66.40"/><line x1="497.5" y1="66.40" x2="493.8" y2="66.40"/><line x1="63.5" y1="59.23" x2="65.8" y2="59.23"/><line x1="497.5" y1="59.23" x2="495.2" y2="59.23"/><line x1="63.5" y1="52.05" x2="65.8" y2="52.05"/><line x1="497.5" y1="52.05" x2="495.2" y2="52.05"/><line x1="63.5" y1="44.88" x2="65.8" y2="44.88"/><line x1="497.5" y1="44.88" x2="495.2" y2="44.88"/><line x1="63.5" y1="37.71" x2="65.8" y2="37.71"/><line x1="497.5" y1="37.71" x2="495.2" y2="37.71"/><line x1="63.5" y1="30.53" x2="67.2" y2="30.53"/><line x1="497.5" y1="30.53" x2="493.8" y2="30.53"/><line x1="63.5" y1="23.36" x2="65.8" y2="23.36"/><line x1="497.5" y1="23.36" x2="495.2" y2="23.36"/><line x1="63.5" y1="16.19" x2="65.8" y2="16.19"/><line x1="497.5" y1="16.19" x2="495.2" y2="16.19"/><line x1="63.5" y1="9.01" x2="65.8" y2="9.01"/><line x1="497.5" y1="9.01" x2="495.2" y2="9.01"/><line x1="63.5" y1="1.84" x2="65.8" y2="1.84"/><line x1="497.5" y1="1.84" x2="495.2" y2="1.84"/></g><g stroke="#979797" stroke-width="1" fill="none"><rect x="63.5" y="0.5" width="434.0" height="268.0"/></g>
<text transform="translate(100.10,282.50) scale(0.943,1)" text-anchor="middle" style="font-size:13.6px;">3</text><text transform="translate(155.65,282.50) scale(0.943,1)" text-anchor="middle" style="font-size:13.6px;">4</text><text transform="translate(211.20,282.50) scale(0.943,1)" text-anchor="middle" style="font-size:13.6px;">5</text><text transform="translate(266.75,282.50) scale(0.943,1)" text-anchor="middle" style="font-size:13.6px;">6</text><text transform="translate(322.30,282.50) scale(0.943,1)" text-anchor="middle" style="font-size:13.6px;">7</text><text transform="translate(377.85,282.50) scale(0.943,1)" text-anchor="middle" style="font-size:13.6px;">8</text><text transform="translate(433.40,282.50) scale(0.943,1)" text-anchor="middle" style="font-size:13.6px;">9</text><text transform="translate(488.95,282.50) scale(0.943,1)" text-anchor="middle" style="font-size:13.6px;">10</text><text transform="translate(60.90,250.53) scale(0.943,1)" text-anchor="end" style="font-size:13.6px;"><tspan class="d">–</tspan>0.002</text><text transform="translate(60.90,214.67) scale(0.943,1)" text-anchor="end" style="font-size:13.6px;"><tspan class="d">–</tspan>0.001</text><text transform="translate(60.90,178.80) scale(0.943,1)" text-anchor="end" style="font-size:13.6px;">0.000</text><text transform="translate(60.90,142.93) scale(0.943,1)" text-anchor="end" style="font-size:13.6px;">0.001</text><text transform="translate(60.90,107.07) scale(0.943,1)" text-anchor="end" style="font-size:13.6px;">0.002</text><text transform="translate(60.90,71.20) scale(0.943,1)" text-anchor="end" style="font-size:13.6px;">0.003</text><text transform="translate(60.90,35.33) scale(0.943,1)" text-anchor="end" style="font-size:13.6px;">0.004</text><text transform="translate(281.00,302.90) scale(0.97,1)" text-anchor="middle" style="font-size:14.4px;">r/M</text>
<text transform="translate(12.4,135.7) rotate(-90) scale(0.97,1)" text-anchor="middle" style="font-size:14.4px">M <tspan class="i">F</tspan><tspan style="font-size:10.2px" dy="2">eff</tspan></text>
<line x1="149.5" y1="154.89999999999998" x2="181.3" y2="154.89999999999998" stroke="#000" stroke-width="1.65" stroke-dasharray="3.3 2.4"/><text transform="translate(190.80,157.70) scale(0.943,1)" text-anchor="start" style="font-size:13.6px;word-spacing:0.35px;"><tspan class="i">α</tspan><tspan style="font-size:11.6px" dx="0.6" dy="-0.55">=</tspan><tspan dx="0.6" dy="0.55">0, </tspan><tspan class="l">l</tspan><tspan style="font-size:11.6px" dx="0.6" dy="-0.55">=</tspan><tspan dx="0.6" dy="0.55">0 (RN–AdS BH)</tspan></text>
<line x1="149.2" y1="177.7" x2="183.3" y2="177.7" stroke="#ff0000" stroke-width="1.9"/><text transform="translate(190.80,179.90) scale(0.943,1)" text-anchor="start" style="font-size:13.6px;word-spacing:0.35px;"><tspan class="i">α</tspan><tspan style="font-size:11.6px" dx="0.6" dy="-0.55">=</tspan><tspan dx="0.6" dy="0.55">0, </tspan><tspan class="l">l</tspan><tspan style="font-size:11.6px" dx="0.6" dy="-0.55">=</tspan><tspan dx="0.6" dy="0.55"><tspan class="d">–</tspan>0.1 (RN–AdS BH with KR field)</tspan></text>
<line x1="149.2" y1="199.99999999999997" x2="183.3" y2="199.99999999999997" stroke="#800080" stroke-width="1.9"/><text transform="translate(190.80,202.20) scale(0.943,1)" text-anchor="start" style="font-size:13.6px;word-spacing:0.35px;"><tspan class="i">α</tspan><tspan style="font-size:11.6px" dx="0.6" dy="-0.55">=</tspan><tspan dx="0.6" dy="0.55">0.05, </tspan><tspan class="l">l</tspan><tspan style="font-size:11.6px" dx="0.6" dy="-0.55">=</tspan><tspan dx="0.6" dy="0.55">0 (RN–AdS BH with CoS)</tspan></text>
<line x1="149.2" y1="222.39999999999998" x2="183.3" y2="222.39999999999998" stroke="#0000ff" stroke-width="1.9"/><text transform="translate(190.80,224.60) scale(0.943,1)" text-anchor="start" style="font-size:13.6px;word-spacing:0.35px;"><tspan class="i">α</tspan><tspan style="font-size:11.6px" dx="0.6" dy="-0.55">=</tspan><tspan dx="0.6" dy="0.55">0.05, </tspan><tspan class="l">l</tspan><tspan style="font-size:11.6px" dx="0.6" dy="-0.55">=</tspan><tspan dx="0.6" dy="0.55"><tspan class="d">–</tspan>0.1 (RN–AdS BH with KR field and CoS)</tspan></text>
<rect x="21.27" y="246.19" width="5.6" height="1.5" fill="#000"/><rect x="21.27" y="210.33" width="5.6" height="1.5" fill="#000"/><rect x="232.10" y="175.56" width="5.6" height="1.5" fill="#000"/><rect x="249.90" y="220.26" width="5.6" height="1.5" fill="#000"/>
</svg></body></html>
